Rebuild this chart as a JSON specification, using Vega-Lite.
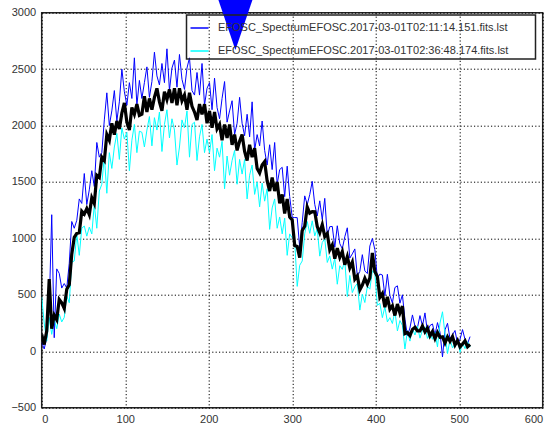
{
  "$schema": "https://vega.github.io/schema/vega-lite/v6.json",
  "width": 501,
  "height": 395,
  "autosize": {"type": "none"},
  "padding": {"left": 41.7, "top": 12.7, "right": 10.3, "bottom": 19.3},
  "background": "white",
  "config": {
    "view": {"stroke": "#222", "strokeWidth": 1.5},
    "axis": {
      "grid": true,
      "gridColor": "#000",
      "gridDash": [1.2, 2.2],
      "gridOpacity": 1,
      "gridWidth": 1,
      "domain": false,
      "ticks": false,
      "title": null,
      "format": "d",
      "labelFont": "Liberation Sans",
      "labelFontSize": 11,
      "labelColor": "#333",
      "labelPadding": 6
    },
    "legend": {"strokeWidth": 1.5}
  },
  "datasets": {
    "spec": [
      {"x":0,"k":150,"b":80,"c":480},{"x":3,"k":60,"b":20,"c":250},{"x":6,"k":180,"b":120,"c":90},{"x":9,"k":640,"b":380,"c":300},
      {"x":12,"k":200,"b":1210,"c":150},{"x":15,"k":320,"b":120,"c":280},{"x":18,"k":280,"b":730,"c":200},{"x":21,"k":460,"b":690,"c":330},
      {"x":24,"k":430,"b":560,"c":260},{"x":27,"k":380,"b":600,"c":300},{"x":30,"k":550,"b":560,"c":490},{"x":33,"k":590,"b":780,"c":430},
      {"x":36,"k":860,"b":1150,"c":790},{"x":39,"k":1010,"b":1090,"c":800},{"x":42,"k":1045,"b":1160,"c":1040},{"x":45,"k":1050,"b":1350,"c":850},
      {"x":48,"k":1240,"b":1310,"c":1090},{"x":51,"k":1215,"b":1575,"c":1110},{"x":54,"k":1265,"b":1300,"c":1020},{"x":57,"k":1210,"b":1430,"c":1100},
      {"x":60,"k":1360,"b":1600,"c":1040},{"x":63,"k":1310,"b":1460,"c":1300},{"x":66,"k":1560,"b":1850,"c":1090},{"x":69,"k":1540,"b":1720,"c":1420},
      {"x":72,"k":1720,"b":1760,"c":1480},{"x":75,"k":1690,"b":2050,"c":1730},{"x":78,"k":1920,"b":2290,"c":1400},{"x":81,"k":1870,"b":2000,"c":1760},
      {"x":84,"k":2020,"b":2130,"c":1620},{"x":87,"k":1920,"b":2310,"c":1810},{"x":90,"k":2040,"b":2040,"c":1930},{"x":93,"k":1970,"b":2210,"c":1700},
      {"x":96,"k":2110,"b":2500,"c":1980},{"x":99,"k":2200,"b":2300,"c":1880},{"x":102,"k":2030,"b":2180,"c":1940},{"x":105,"k":1960,"b":2380,"c":1600},
      {"x":108,"k":2160,"b":2240,"c":1870},{"x":111,"k":2100,"b":2600,"c":2010},{"x":114,"k":2190,"b":2180,"c":1760},{"x":117,"k":2090,"b":2400,"c":1950},
      {"x":120,"k":2100,"b":2240,"c":1940},{"x":123,"k":2260,"b":2380,"c":1810},{"x":126,"k":2120,"b":2520,"c":1960},{"x":129,"k":2240,"b":2250,"c":2080},
      {"x":132,"k":2140,"b":2390,"c":1820},{"x":135,"k":2250,"b":2650,"c":2070},{"x":138,"k":2330,"b":2440,"c":1960},{"x":141,"k":2210,"b":2360,"c":2120},
      {"x":144,"k":2130,"b":2550,"c":1770},{"x":147,"k":2300,"b":2380,"c":2010},{"x":150,"k":2230,"b":2680,"c":2140},{"x":153,"k":2320,"b":2310,"c":1890},
      {"x":156,"k":2200,"b":2510,"c":2060},{"x":159,"k":2330,"b":2580,"c":1960},{"x":162,"k":2180,"b":2340,"c":1650},{"x":165,"k":2330,"b":2630,"c":1810},
      {"x":168,"k":2220,"b":2410,"c":2050},{"x":171,"k":2270,"b":2320,"c":1980},{"x":174,"k":2140,"b":2510,"c":2130},{"x":177,"k":2290,"b":2600,"c":1720},
      {"x":180,"k":2170,"b":2310,"c":2010},{"x":183,"k":2120,"b":2270,"c":2030},{"x":186,"k":2050,"b":2470,"c":1690},{"x":189,"k":2190,"b":2270,"c":1900},
      {"x":192,"k":2100,"b":2550,"c":2010},{"x":195,"k":2190,"b":2180,"c":1760},{"x":198,"k":2020,"b":2330,"c":1880},{"x":201,"k":2130,"b":2380,"c":1760},
      {"x":204,"k":1980,"b":2140,"c":1920},{"x":207,"k":2120,"b":2420,"c":1600},{"x":210,"k":1970,"b":2160,"c":1800},{"x":213,"k":2010,"b":2060,"c":1720},
      {"x":216,"k":1870,"b":2240,"c":1860},{"x":219,"k":2010,"b":2390,"c":1440},{"x":222,"k":1890,"b":2030,"c":1730},{"x":225,"k":2010,"b":2130,"c":1560},
      {"x":228,"k":1830,"b":2220,"c":1690},{"x":231,"k":1920,"b":1920,"c":1780},{"x":234,"k":1780,"b":2020,"c":1480},{"x":237,"k":1860,"b":2250,"c":1700},
      {"x":240,"k":1920,"b":2020,"c":1570},{"x":243,"k":1770,"b":1910,"c":1700},{"x":246,"k":1690,"b":2100,"c":1350},{"x":249,"k":1830,"b":1900,"c":1560},
      {"x":252,"k":1720,"b":2210,"c":1650},{"x":255,"k":1800,"b":1780,"c":1390},{"x":258,"k":1620,"b":1920,"c":1500},{"x":261,"k":1580,"b":1820,"c":1280},
      {"x":264,"k":1650,"b":2040,"c":1490},{"x":267,"k":1680,"b":1780,"c":1330},{"x":270,"k":1510,"b":1650,"c":1440},{"x":273,"k":1420,"b":1830,"c":1080},
      {"x":276,"k":1540,"b":1610,"c":1270},{"x":279,"k":1420,"b":1850,"c":1350},{"x":282,"k":1500,"b":1480,"c":1090},{"x":285,"k":1310,"b":1610,"c":1190},
      {"x":288,"k":1390,"b":1630,"c":1040},{"x":291,"k":1220,"b":1370,"c":1180},{"x":294,"k":1350,"b":1640,"c":850},{"x":297,"k":1190,"b":1370,"c":1040},
      {"x":300,"k":1164,"b":1188,"c":1006},{"x":303,"k":937,"b":1185,"c":975},{"x":306,"k":929,"b":1184,"c":575},{"x":309,"k":829,"b":916,"c":762},
      {"x":312,"k":1070,"b":1143,"c":800},{"x":315,"k":1108,"b":1377,"c":1041},{"x":318,"k":1278,"b":1300,"c":1150},{"x":321,"k":1224,"b":1388,"c":1045},
      {"x":324,"k":1237,"b":1506,"c":1156},{"x":327,"k":1236,"b":1302,"c":1022},{"x":330,"k":1105,"b":1199,"c":1087},{"x":333,"k":1050,"b":1333,"c":843},
      {"x":336,"k":1122,"b":1167,"c":964},{"x":339,"k":1016,"b":1355,"c":998},{"x":342,"k":1043,"b":1025,"c":787},{"x":345,"k":898,"b":1104,"c":845},
      {"x":348,"k":942,"b":1106,"c":728},{"x":351,"k":821,"b":922,"c":824},{"x":354,"k":913,"b":1112,"c":594},{"x":357,"k":832,"b":954,"c":758},
      {"x":360,"k":884,"b":908,"c":726},{"x":363,"k":767,"b":1015,"c":805},{"x":366,"k":839,"b":1094,"c":485},{"x":369,"k":739,"b":826,"c":672},
      {"x":372,"k":790,"b":863,"c":520},{"x":375,"k":638,"b":907,"c":571},{"x":378,"k":668,"b":664,"c":601},{"x":381,"k":544,"b":708,"c":365},
      {"x":384,"k":587,"b":856,"c":506},{"x":387,"k":646,"b":712,"c":432},{"x":390,"k":595,"b":689,"c":577},{"x":393,"k":650,"b":933,"c":550},
      {"x":396,"k":872,"b":1000,"c":714},{"x":399,"k":706,"b":900,"c":688},{"x":402,"k":663,"b":645,"c":407},{"x":405,"k":478,"b":684,"c":425},
      {"x":408,"k":512,"b":676,"c":298},{"x":411,"k":391,"b":492,"c":394},{"x":414,"k":483,"b":682,"c":260},{"x":417,"k":372,"b":494,"c":298},
      {"x":420,"k":404,"b":428,"c":246},{"x":423,"k":317,"b":565,"c":355},{"x":426,"k":419,"b":580,"c":180},{"x":429,"k":339,"b":426,"c":272},
      {"x":432,"k":400,"b":500,"c":230},{"x":435,"k":156,"b":284,"c":20},{"x":438,"k":166,"b":138,"c":182},{"x":441,"k":138,"b":206,"c":90},
      {"x":444,"k":194,"b":322,"c":202},{"x":447,"k":212,"b":224,"c":144},{"x":450,"k":180,"b":208,"c":224},{"x":453,"k":180,"b":316,"c":116},
      {"x":456,"k":224,"b":224,"c":188},{"x":459,"k":172,"b":340,"c":216},{"x":462,"k":206,"b":170,"c":114},{"x":465,"k":136,"b":228,"c":160},
      {"x":468,"k":174,"b":242,"c":106},{"x":471,"k":112,"b":144,"c":168},{"x":474,"k":166,"b":254,"c":38},{"x":477,"k":124,"b":168,"c":250},
      {"x":480,"k":128,"b":-50,"c":350},{"x":483,"k":74,"b":190,"c":150},{"x":486,"k":128,"b":248,"c":-20},{"x":489,"k":88,"b":112,"c":104},
      {"x":492,"k":130,"b":146,"c":30},{"x":495,"k":56,"b":184,"c":72},{"x":498,"k":96,"b":68,"c":112},{"x":501,"k":38,"b":106,"c":-10},
      {"x":504,"k":64,"b":192,"c":72},{"x":507,"k":92,"b":104,"c":24},{"x":510,"k":40,"b":68,"c":84},{"x":513,"k":60,"b":130,"c":40}
    ],
    "marker": [{"x": 232, "y": 2891}]
  },
  "layer": [
    {
      "data": {"name": "spec"},
      "transform": [{"fold": ["b", "c"], "as": ["s", "v"]}],
      "mark": {"type": "line", "strokeWidth": 1, "clip": true},
      "encoding": {
        "x": {
          "field": "x", "type": "quantitative",
          "scale": {"domain": [0, 600], "nice": false, "zero": false},
          "axis": {"values": [0, 100, 200, 300, 400, 500, 600]}
        },
        "y": {
          "field": "v", "type": "quantitative",
          "scale": {"domain": [-500, 3000], "nice": false, "zero": false},
          "axis": {"values": [-500, 0, 500, 1000, 1500, 2000, 2500, 3000]}
        },
        "color": {
          "field": "s", "type": "nominal",
          "scale": {"domain": ["b", "c"], "range": ["#0000ff", "#00ffff"]},
          "legend": {
            "title": null,
            "orient": "none",
            "legendX": 144.8,
            "legendY": 2.3,
            "strokeColor": "#222",
            "padding": 3,
            "symbolType": "stroke",
            "symbolSize": 324,
            "symbolStrokeWidth": 1.5,
            "rowPadding": 8,
            "labelOffset": 8.5,
            "labelLimit": 0,
            "labelFont": "Liberation Sans",
            "labelFontSize": 11,
            "labelColor": "#333",
            "labelExpr": "(datum.value === 'b' ? 'EFOSC_SpectrumEFOSC.2017-03-01T02:11:14.151.fits.lst' : 'EFOSC_SpectrumEFOSC.2017-03-01T02:36:48.174.fits.lst') + '\u2800\u2800\u2800'"
          }
        }
      }
    },
    {
      "data": {"name": "spec"},
      "mark": {"type": "line", "color": "#000", "strokeWidth": 3.2, "clip": true},
      "encoding": {
        "x": {"field": "x", "type": "quantitative"},
        "y": {"field": "k", "type": "quantitative"}
      }
    },
    {
      "data": {"name": "marker"},
      "mark": {"type": "point", "shape": "M-0.68,-1L0.68,-1L0,1Z", "filled": true, "color": "#0000ff", "opacity": 1, "size": 2500},
      "encoding": {
        "x": {"field": "x", "type": "quantitative"},
        "y": {"field": "y", "type": "quantitative"}
      }
    }
  ]
}
